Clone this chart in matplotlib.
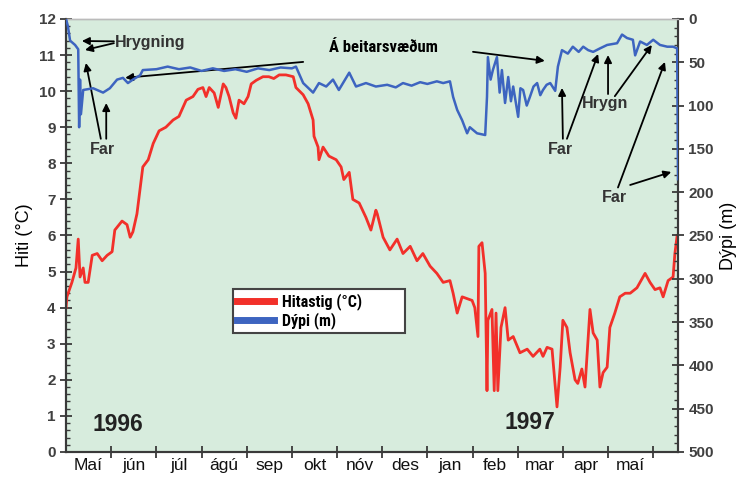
import numpy as np
import matplotlib
matplotlib.use("Agg")
import matplotlib.pyplot as plt
from matplotlib.lines import Line2D
from matplotlib.ticker import MultipleLocator, FixedLocator
from matplotlib import font_manager

# months since start of record (0 = 1 May 1996)
temp_x = [0.0, 0.02, 0.13, 0.22, 0.27, 0.31, 0.38, 0.42, 0.49, 0.58, 0.69, 0.80, 0.91, 1.02,
          1.08, 1.24, 1.35, 1.42, 1.48, 1.57, 1.59, 1.70, 1.82, 1.93, 2.06, 2.21, 2.37, 2.50,
          2.59, 2.66, 2.81, 2.92, 3.03, 3.10, 3.17, 3.28, 3.37, 3.48, 3.54, 3.61, 3.70, 3.76,
          3.83, 3.94, 4.03, 4.10, 4.21, 4.36, 4.49, 4.60, 4.72, 4.87, 5.03, 5.09, 5.25, 5.36,
          5.47, 5.49, 5.58, 5.60, 5.69, 5.82, 5.98, 6.09, 6.15, 6.27, 6.35, 6.49, 6.64, 6.75,
          6.86, 6.89, 7.02, 7.17, 7.33, 7.46, 7.62, 7.77, 7.90, 8.06, 8.21, 8.35, 8.50, 8.57,
          8.66, 8.77, 8.88, 8.99, 9.05, 9.12, 9.14, 9.21, 9.28, 9.32, 9.34, 9.43, 9.48, 9.52,
          9.56, 9.63, 9.72, 9.79, 9.90, 10.05, 10.21, 10.34, 10.49, 10.56, 10.65, 10.76, 10.87,
          10.94, 11.00, 11.09, 11.16, 11.27, 11.33, 11.42, 11.49, 11.60, 11.67, 11.76, 11.82,
          11.89, 11.98, 12.04, 12.15, 12.26, 12.38, 12.49, 12.64, 12.82, 12.93, 13.04, 13.15,
          13.22, 13.33, 13.44, 13.48, 13.53]
temp_c = [4.0, 4.3, 4.7, 5.1, 5.9, 4.85, 5.1, 4.7, 4.7, 5.45, 5.5, 5.3, 5.45, 5.55,
          6.15, 6.4, 6.3, 5.95, 6.1, 6.6, 6.8, 7.9, 8.1, 8.55, 8.9, 9.0, 9.2, 9.3,
          9.55, 9.75, 9.85, 10.05, 10.1, 9.85, 10.1, 9.95, 9.55, 10.2, 10.1, 9.85, 9.4, 9.25,
          9.75, 9.65, 9.85, 10.2, 10.3, 10.4, 10.4, 10.35, 10.45, 10.45, 10.4, 10.1, 9.9, 9.65,
          9.2, 8.75, 8.45, 8.1, 8.45, 8.2, 8.1, 7.9, 7.55, 7.75, 7.0, 6.9, 6.5, 6.15,
          6.7, 6.6, 5.95, 5.6, 5.9, 5.5, 5.7, 5.3, 5.5, 5.15, 4.95, 4.7, 4.75, 4.4,
          3.85, 4.3, 4.25, 4.2, 4.0, 3.2, 5.7, 5.8, 4.95, 1.7, 3.65, 3.95, 1.7, 3.85,
          1.7, 3.45, 4.0, 3.1, 3.2, 2.75, 2.85, 2.65, 2.85, 2.65, 2.9, 2.85, 1.25,
          2.35, 3.65, 3.45, 2.75, 2.0, 1.9, 2.3, 1.8, 3.95, 3.3, 3.1, 1.8,
          2.2, 2.35, 3.45, 3.85, 4.3, 4.4, 4.4, 4.55, 4.95, 4.7, 4.5, 4.55,
          4.3, 4.75, 4.85, 5.5, 6.0]

depth_x = [0.0, 0.04, 0.09, 0.20, 0.27, 0.29, 0.31, 0.33, 0.38, 0.60, 0.82, 0.97, 1.13, 1.26,
           1.37, 1.48, 1.64, 1.70, 2.00, 2.25, 2.50, 2.75, 3.00, 3.25, 3.50, 3.75, 4.00, 4.25,
           4.50, 4.75, 5.00, 5.09, 5.25, 5.47, 5.60, 5.76, 5.91, 6.04, 6.27, 6.42, 6.64, 6.86,
           7.11, 7.30, 7.46, 7.65, 7.84, 8.00, 8.21, 8.35, 8.50, 8.57, 8.66, 8.77, 8.88, 8.94,
           9.10, 9.28, 9.32, 9.34, 9.40, 9.45, 9.54, 9.60, 9.65, 9.72, 9.79, 9.85, 9.90, 10.01,
           10.06, 10.12, 10.20, 10.27, 10.35, 10.43, 10.50, 10.56, 10.64, 10.72, 10.83, 10.89,
           10.98, 11.11, 11.22, 11.35, 11.45, 11.56, 11.67, 11.82, 11.98, 12.20, 12.31, 12.42,
           12.55, 12.60, 12.71, 12.86, 13.00, 13.15, 13.31, 13.44, 13.53, 13.55]
depth_m = [0, 8, 25, 30, 35, 125, 70, 110, 82, 80, 85, 80, 70, 68,
           74, 70, 65, 59, 58, 55, 58, 56, 60, 57, 60, 58, 61, 57,
           59, 56, 57, 55, 74, 85, 74, 78, 70, 82, 62, 78, 74, 78,
           76, 79, 74, 77, 73, 75, 72, 74, 72, 90, 105, 117, 132, 125,
           132, 134, 90, 44, 70, 59, 44, 85, 59, 97, 67, 95, 78, 113,
           80, 82, 100, 90, 78, 74, 88, 82, 76, 74, 83, 55,
           36, 40, 32, 38, 32, 36, 38, 34, 30, 28, 18, 22,
           24, 42, 26, 30, 24, 30, 32, 32, 34, 185]

months = ["Maí", "jún", "júl", "ágú", "sep", "okt", "nóv", "des", "jan", "feb", "mar", "apr", "maí"]

RED = "#f2302a"
BLUE = "#3d64c0"
GREY = "#3a3a3a"
BG = "#d7ecdd"
plt.rcParams["font.family"] = ["Liberation Sans", "DejaVu Sans"]

# pick a narrow bold sans that is installed for the condensed labels
installed = {f.name for f in font_manager.fontManager.ttflist}
cond_family = None
for cand in ["Liberation Sans Narrow", "Roboto Condensed", "Open Sans Condensed",
             "Noto Sans Condensed", "Noto Sans ExtraCondensed", "Arial Narrow"]:
    if cand in installed:
        cond_family = cand
        break


def narrow(size):
    if cond_family:
        return font_manager.FontProperties(family=cond_family, weight="bold", size=size)
    return font_manager.FontProperties(family="DejaVu Sans", stretch="condensed",
                                       weight="bold", size=size)


fig = plt.figure(figsize=(7.47, 4.78), dpi=100)
ax = fig.add_axes([0.0884, 0.0544, 0.8193, 0.9059])
ax.set_facecolor(BG)
ax2 = ax.twinx()

ax.plot(temp_x, temp_c, color=RED, lw=2.0, zorder=3)
ax2.plot(depth_x, depth_m, color=BLUE, lw=1.8, zorder=3)

ax.set_xlim(0, 13.55)
ax.set_ylim(0, 12)
ax2.set_ylim(500, 0)

# x axis: ticks at month boundaries, labels centred in between
ax.xaxis.set_major_locator(FixedLocator(np.arange(1, 14)))
ax.xaxis.set_minor_locator(FixedLocator(np.arange(len(months)) + 0.5))
ax.set_xticklabels([], minor=False)
ax.set_xticklabels(months, minor=True, fontsize=12.5, color="#111111")
ax.tick_params(axis="x", which="major", direction="inout", length=8, width=1.3, color=GREY)
ax.tick_params(axis="x", which="minor", length=0, pad=4)

left_ticks = np.arange(0, 13)
ax.set_yticks(left_ticks)
ax.set_yticklabels([str(v) for v in left_ticks], fontweight="bold", fontsize=11, color="#404040")
ax.yaxis.set_minor_locator(MultipleLocator(0.2))
ax.tick_params(axis="y", which="major", direction="inout", length=8, width=1.3, color=GREY)
ax.tick_params(axis="y", which="minor", direction="in", length=3, width=1.0, color=GREY)

right_ticks = np.arange(0, 550, 50)
ax2.set_yticks(right_ticks)
ax2.set_yticklabels([str(v) for v in right_ticks], fontweight="bold", fontsize=11, color="#404040")
ax2.yaxis.set_minor_locator(MultipleLocator(10))
ax2.tick_params(axis="y", which="major", direction="inout", length=8, width=1.3, color=GREY)
ax2.tick_params(axis="y", which="minor", direction="in", length=3, width=1.0, color=GREY)

for a in (ax, ax2):
    for s in ("left", "right", "bottom"):
        a.spines[s].set_color(GREY)
        a.spines[s].set_linewidth(1.5)
    a.spines["top"].set_color("#bbbbbb")
    a.spines["top"].set_linewidth(1.0)

ax.set_ylabel("Hiti (°C)", fontsize=13, labelpad=4)
ax2.set_ylabel("Dýpi (m)", fontsize=13, labelpad=4)

# annotations
arr = dict(arrowstyle="-|>", color="black", lw=1.3, mutation_scale=11, shrinkA=0, shrinkB=0)
tkw = dict(fontsize=11.5, fontweight="bold", color="#333333")

ax.text(1.08, 11.36, "Hrygning", ha="left", va="center", **tkw)
ax.annotate("", xy=(0.35, 11.39), xytext=(1.06, 11.38), arrowprops=arr)
ax.annotate("", xy=(0.42, 11.14), xytext=(1.06, 11.33), arrowprops=arr)

ax.text(0.80, 8.37, "Far", ha="center", va="center", **tkw)
ax.annotate("", xy=(0.44, 10.78), xytext=(0.77, 8.68), arrowprops=arr)
ax.annotate("", xy=(0.89, 9.67), xytext=(0.89, 8.68), arrowprops=arr)

ax.text(7.02, 11.22, "Á beitarsvæðum", ha="center", va="center",
        fontproperties=narrow(12 if cond_family else 10.5), color="black")
ax.annotate("", xy=(1.31, 10.37), xytext=(5.25, 10.81), arrowprops=arr)
ax.annotate("", xy=(10.60, 10.84), xytext=(9.01, 11.09), arrowprops=arr)

ax.text(10.94, 8.37, "Far", ha="center", va="center", **tkw)
ax.annotate("", xy=(10.98, 10.09), xytext=(11.0, 8.68), arrowprops=arr)
ax.annotate("", xy=(11.78, 11.03), xytext=(11.09, 8.68), arrowprops=arr)

ax.text(11.93, 9.67, "Hrygn", ha="center", va="center", **tkw)
ax.annotate("", xy=(12.0, 11.0), xytext=(12.0, 9.92), arrowprops=arr)
ax.annotate("", xy=(12.97, 11.28), xytext=(12.15, 9.86), arrowprops=arr)

ax.text(12.15, 7.04, "Far", ha="center", va="center", **tkw)
ax.annotate("", xy=(13.26, 10.81), xytext=(12.22, 7.33), arrowprops=arr)
ax.annotate("", xy=(13.40, 7.76), xytext=(12.49, 7.40), arrowprops=arr)

ax.text(1.15, 0.75, "1996", ha="center", va="center", fontsize=16.5, fontweight="bold", color="#222222")
ax.text(10.27, 0.83, "1997", ha="center", va="center", fontsize=16.5, fontweight="bold", color="#222222")

handles = [Line2D([], [], color=RED, lw=5), Line2D([], [], color=BLUE, lw=5)]
leg = ax2.legend(handles, ["Hitastig (°C)", "Dýpi (m)"], loc="upper left",
                 bbox_to_anchor=(0.273, 0.268, 0.281, 0.108), mode="expand", borderaxespad=0,
                 frameon=True, fancybox=False, prop=narrow(11.5 if cond_family else 10.5),
                 handlelength=2.3, borderpad=0.25, labelspacing=0.12, handletextpad=0.5)
leg.get_frame().set_edgecolor("#444444")
leg.get_frame().set_linewidth(1.5)
leg.get_frame().set_alpha(1)

fig.savefig("out.png", dpi=100)
